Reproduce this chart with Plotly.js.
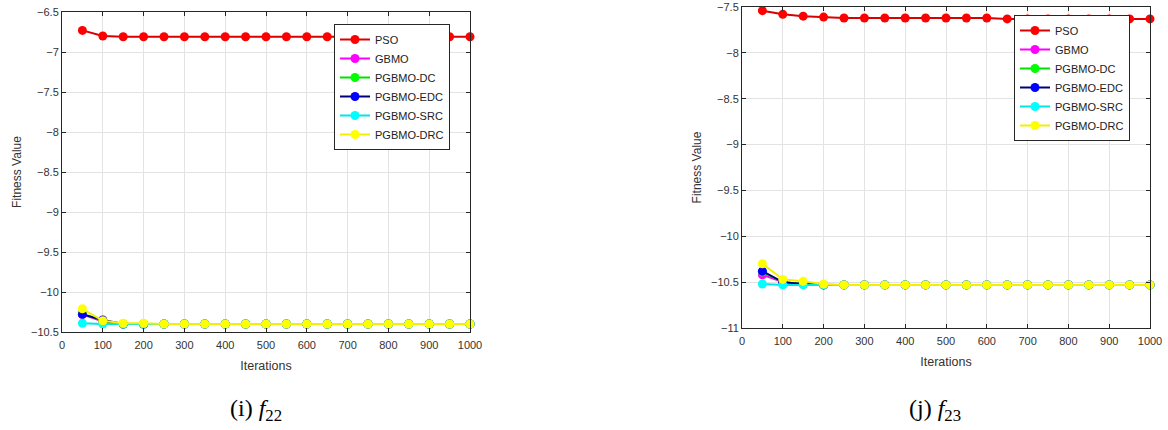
<!DOCTYPE html>
<html>
<head>
<meta charset="utf-8">
<script src="https://cdn.plot.ly/plotly-3.0.1.min.js"></script>
<style>html,body{margin:0;padding:0;background:#fff;}#chart{width:1168px;height:430px;}</style>
</head>
<body>
<div id="chart"></div>
<script>
const iterations = [50,100,150,200,250,300,350,400,450,500,550,600,650,700,750,800,850,900,950,1000];
const seriesNames = ['PSO','GBMO','PGBMO-DC','PGBMO-EDC','PGBMO-SRC','PGBMO-DRC'];
const seriesColors = ['#ff0000','#ff00ff','#00ff00','#0000ff','#00ffff','#ffff00'];
const lineColors = ['#d80000','#ff00ff','#00e000','#00007a','#00e5e5','#f0f000'];

// (i) f22
const f22_PSO  = [-6.73,-6.80,-6.81,-6.81,-6.81,-6.81,-6.81,-6.81,-6.81,-6.81,-6.81,-6.81,-6.81,-6.81,-6.81,-6.81,-6.81,-6.81,-6.81,-6.81];
const f22_GBMO = [-10.28,-10.37,-10.40,-10.40,-10.40,-10.40,-10.40,-10.40,-10.40,-10.40,-10.40,-10.40,-10.40,-10.40,-10.40,-10.40,-10.40,-10.40,-10.40,-10.40];
const f22_DC   = [-10.27,-10.36,-10.40,-10.40,-10.40,-10.40,-10.40,-10.40,-10.40,-10.40,-10.40,-10.40,-10.40,-10.40,-10.40,-10.40,-10.40,-10.40,-10.40,-10.40];
const f22_EDC  = [-10.28,-10.35,-10.40,-10.40,-10.40,-10.40,-10.40,-10.40,-10.40,-10.40,-10.40,-10.40,-10.40,-10.40,-10.40,-10.40,-10.40,-10.40,-10.40,-10.40];
const f22_SRC  = [-10.39,-10.40,-10.40,-10.40,-10.40,-10.40,-10.40,-10.40,-10.40,-10.40,-10.40,-10.40,-10.40,-10.40,-10.40,-10.40,-10.40,-10.40,-10.40,-10.40];
const f22_DRC  = [-10.21,-10.36,-10.39,-10.39,-10.40,-10.40,-10.40,-10.40,-10.40,-10.40,-10.40,-10.40,-10.40,-10.40,-10.40,-10.40,-10.40,-10.40,-10.40,-10.40];

// (j) f23
const f23_PSO  = [-7.54,-7.58,-7.60,-7.61,-7.62,-7.62,-7.62,-7.62,-7.62,-7.62,-7.62,-7.62,-7.63,-7.63,-7.63,-7.63,-7.63,-7.63,-7.63,-7.63];
const f23_GBMO = [-10.42,-10.50,-10.52,-10.53,-10.53,-10.53,-10.53,-10.53,-10.53,-10.53,-10.53,-10.53,-10.53,-10.53,-10.53,-10.53,-10.53,-10.53,-10.53,-10.53];
const f23_DC   = [-10.39,-10.50,-10.52,-10.53,-10.53,-10.53,-10.53,-10.53,-10.53,-10.53,-10.53,-10.53,-10.53,-10.53,-10.53,-10.53,-10.53,-10.53,-10.53,-10.53];
const f23_EDC  = [-10.38,-10.50,-10.52,-10.53,-10.53,-10.53,-10.53,-10.53,-10.53,-10.53,-10.53,-10.53,-10.53,-10.53,-10.53,-10.53,-10.53,-10.53,-10.53,-10.53];
const f23_SRC  = [-10.52,-10.53,-10.53,-10.53,-10.53,-10.53,-10.53,-10.53,-10.53,-10.53,-10.53,-10.53,-10.53,-10.53,-10.53,-10.53,-10.53,-10.53,-10.53,-10.53];
const f23_DRC  = [-10.30,-10.47,-10.49,-10.52,-10.53,-10.53,-10.53,-10.53,-10.53,-10.53,-10.53,-10.53,-10.53,-10.53,-10.53,-10.53,-10.53,-10.53,-10.53,-10.53];

const f22Series = [f22_PSO,f22_GBMO,f22_DC,f22_EDC,f22_SRC,f22_DRC];
const f23Series = [f23_PSO,f23_GBMO,f23_DC,f23_EDC,f23_SRC,f23_DRC];

const xTicks = [0,100,200,300,400,500,600,700,800,900,1000];
const yTicksF22 = [-10.5,-10,-9.5,-9,-8.5,-8,-7.5,-7,-6.5];
const yTicksF23 = [-11,-10.5,-10,-9.5,-9,-8.5,-8,-7.5];

const FONT = 'Arial, "Liberation Sans", sans-serif';
const traces = [];
function addSet(series, xa, ya, leg) {
  series.forEach((vals, i) => {
    traces.push({
      x: iterations, y: vals, xaxis: xa, yaxis: ya, legend: leg,
      name: seriesNames[i], type: 'scatter', mode: 'lines+markers',
      line: {color: lineColors[i], width: 2},
      marker: {color: seriesColors[i], size: 9, line: {width: 0}},
      cliponaxis: false
    });
  });
}
addSet(f22Series, 'x', 'y', 'legend');
addSet(f23Series, 'x2', 'y2', 'legend2');

function xAxis(domain, anchor) {
  return {
    domain: domain, anchor: anchor, range: [0, 1000], tickvals: xTicks,
    ticks: 'inside', ticklen: 4, tickcolor: '#262626', ticklabelstandoff: 3,
    showline: true, mirror: 'ticks', linecolor: '#262626', linewidth: 1,
    showgrid: true, gridcolor: '#e3e3e3', zeroline: false,
    tickfont: {family: FONT, size: 11, color: '#333'},
    title: {text: 'Iterations', font: {family: FONT, size: 12.5, color: '#333'}, standoff: 11}
  };
}
function yAxis(domain, anchor, range, ticks) {
  return {
    domain: domain, anchor: anchor, range: range, tickvals: ticks,
    ticks: 'inside', ticklen: 4, tickcolor: '#262626',
    showline: true, mirror: 'ticks', linecolor: '#262626', linewidth: 1,
    showgrid: true, gridcolor: '#e3e3e3', zeroline: false,
    tickfont: {family: FONT, size: 11, color: '#333'},
    title: {text: 'Fitness Value', font: {family: FONT, size: 12, color: '#333'}, standoff: 6}
  };
}

const legendCommon = {
  xanchor: 'left', yanchor: 'top', bgcolor: '#fff',
  bordercolor: '#262626', borderwidth: 1,
  font: {family: FONT, size: 11, color: '#222'},
  tracegroupgap: 0, itemwidth: 30
};

const layout = {
  width: 1168, height: 430,
  margin: {l: 0, r: 0, t: 0, b: 0},
  paper_bgcolor: '#fff', plot_bgcolor: '#fff',
  showlegend: true,
  xaxis: xAxis([62/1168, 470/1168], 'y'),
  yaxis: yAxis([1-332/430, 1-12/430], 'x', [-10.5, -6.5], yTicksF22),
  xaxis2: xAxis([742/1168, 1150/1168], 'y2'),
  yaxis2: yAxis([1-328/430, 1-7/430], 'x2', [-11, -7.5], yTicksF23),
  legend: Object.assign({x: 334/1168, y: 1-24/430}, legendCommon),
  legend2: Object.assign({x: 1014/1168, y: 1-15/430}, legendCommon),
  annotations: [
    {text: '(i) <i>f</i><sub>22</sub>', xref: 'paper', yref: 'paper', x: 256/1168, y: 1-410/430,
     xanchor: 'center', yanchor: 'middle', showarrow: false,
     font: {family: '"Times New Roman", "Liberation Serif", serif', size: 24, color: '#000'}},
    {text: '(j) <i>f</i><sub>23</sub>', xref: 'paper', yref: 'paper', x: 935/1168, y: 1-410/430,
     xanchor: 'center', yanchor: 'middle', showarrow: false,
     font: {family: '"Times New Roman", "Liberation Serif", serif', size: 24, color: '#000'}}
  ]
};

Plotly.newPlot('chart', traces, layout, {displayModeBar: false, staticPlot: true});
</script>
</body>
</html>
